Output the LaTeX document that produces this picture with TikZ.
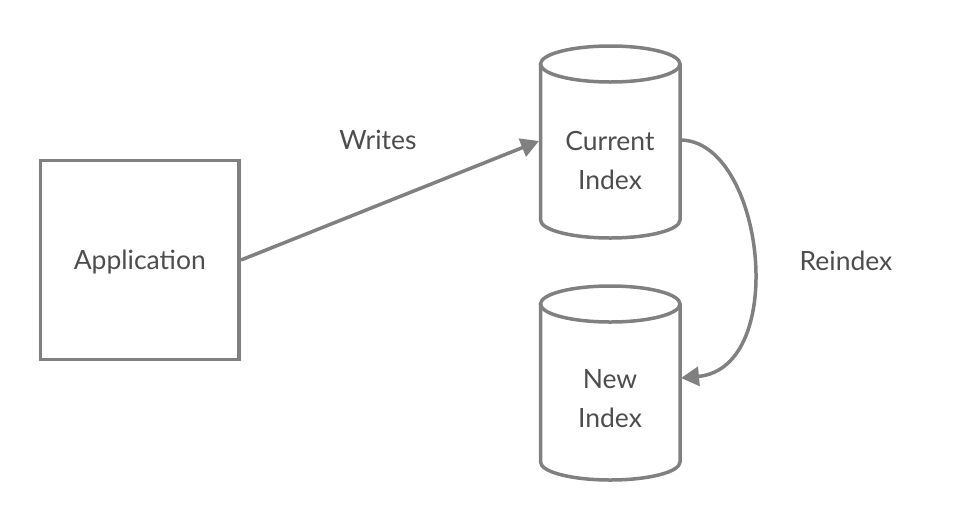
\documentclass[tikz,border=0pt]{standalone}
\usepackage{fontspec}
\setmainfont{Lato}
\usetikzlibrary{arrows.meta}
\definecolor{ln}{HTML}{808080}
\definecolor{tx}{HTML}{4D4D4D}
\begin{document}
\begin{tikzpicture}[x=1pt,y=-1pt,
  line/.style={draw=ln, line width=3.5pt},
  lbl/.style={text=tx, font=\fontsize{26.5}{39}\selectfont, align=center, inner sep=0pt},
  arr/.style={line, -{Triangle[length=18pt,width=19pt]}},
  cylbody/.style={line, fill=white, line join=round}]
\useasboundingbox (0,0) rectangle (960,520);
% Application box
\node[line, lbl, minimum width=198.5pt, minimum height=199pt, text depth=0pt] (app) at (139.8,260) {Application};
% Current Index cylinder
\draw[cylbody] (540.5,64) -- (540.5,220) arc[start angle=180, end angle=0, x radius=69.75, y radius=18] -- (680,64);
\draw[line] (610.25,64) ellipse [x radius=69.75, y radius=18];
\node[lbl] (cur) at (610,160) {Current\\Index};
% New Index cylinder
\draw[cylbody] (540.5,304) -- (540.5,462) arc[start angle=180, end angle=0, x radius=69.75, y radius=18] -- (680,304);
\draw[line] (610.25,304) ellipse [x radius=69.75, y radius=18];
\node[lbl] (new) at (610,399) {New\\Index};
% connector end points
\coordinate (appout) at (241,260);
\coordinate (curin) at (539,141);
\coordinate (curout) at (680,140);
\coordinate (newin) at (681,378);
% Writes
\draw[arr] (appout) -- (curin);
\node[lbl] (writes) at (378,140) {Writes};
% Reindex
\draw[arr] (curout) .. controls (764,140) and (790,368) .. (newin);
\node[lbl] (reindex) at (846,261) {Reindex};
\end{tikzpicture}
\end{document}
